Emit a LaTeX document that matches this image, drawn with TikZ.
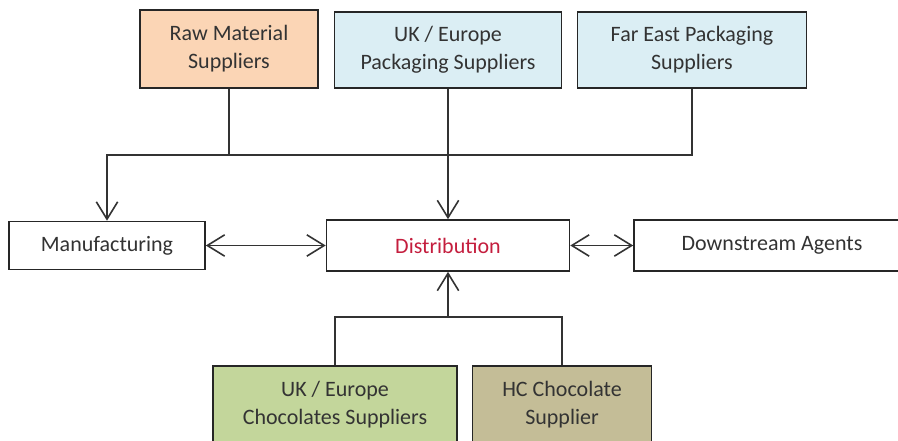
\documentclass[tikz,border=0pt]{standalone}
\usepackage{fontspec}
\setmainfont{Carlito}
\usepackage{tikz}
\usetikzlibrary{arrows.meta}
\usetikzlibrary{calc}

\definecolor{peach}{RGB}{251,213,181}
\definecolor{paleblue}{RGB}{219,238,244}
\definecolor{olivegreen}{RGB}{195,214,155}
\definecolor{tan}{RGB}{196,189,151}
\definecolor{crimson}{RGB}{196,30,62}

\tikzset{
    box/.style={draw=black!85, line width=1.2pt, inner sep=0pt, align=center,
        text=black!80, font=\fontsize{16.5pt}{21pt}\selectfont},
    link/.style={draw=black!80, line width=1.2pt},
    flow/.style={link, -{Straight Barb[length=13pt,width=16pt]}},
    twoway/.style={link, {Straight Barb[length=13pt,width=16pt]}-{Straight Barb[length=13pt,width=16pt]}}
}

\begin{document}
\begin{tikzpicture}[x=0.75pt, y=-0.75pt]

    % === Pagina (pixel dell'immagine) ===
    \useasboundingbox (0,0) rectangle (898,441);

    % === 1. Fornitori in alto ===
    \node[box, fill=peach, minimum width=178*0.75pt, minimum height=78*0.75pt]
        (raw) at (229,49) {Raw Material\\Suppliers};
    \node[box, fill=paleblue, minimum width=227*0.75pt, minimum height=76*0.75pt]
        (ukpack) at (448,50) {UK / Europe\\Packaging Suppliers};
    \node[box, fill=paleblue, minimum width=229*0.75pt, minimum height=76*0.75pt]
        (fareast) at (692,50) {Far East Packaging\\Suppliers};

    % === 2. Riga centrale ===
    \node[box, minimum width=196*0.75pt, minimum height=48*0.75pt]
        (manu) at (107,245.5) {Manufacturing};
    \node[box, minimum width=243*0.75pt, minimum height=51*0.75pt, text=crimson]
        (dist) at (448,245.5) {Distribution};
    \node[box, minimum width=276*0.75pt, minimum height=51*0.75pt]
        (down) at (772,245.5) {Downstream Agents};

    % === 3. Fornitori di cioccolato (in basso) ===
    \node[box, fill=olivegreen, minimum width=244*0.75pt, minimum height=78*0.75pt]
        (ukchoc) at (335,405) {UK / Europe\\Chocolates Suppliers};
    \node[box, fill=tan, minimum width=179*0.75pt, minimum height=78*0.75pt]
        (hc) at (562,405) {HC Chocolate\\Supplier};

    % === 4. Collegamenti ===
    \coordinate (topbus) at (0,155);
    \coordinate (lowbus) at (0,317);

    % Collettore superiore verso la produzione
    \draw[link, line width=1.6pt] (raw.south) -- (raw.south |- topbus);
    \draw[flow] (fareast.south) -- (fareast.south |- topbus) -| (manu.north);
    \draw[flow] (ukpack.south) -- (dist.north);

    % Collettore inferiore verso la distribuzione
    \draw[link] (ukchoc.north) |- (lowbus -| hc.north) -- (hc.north);
    \draw[flow] (lowbus -| dist.south) -- (dist.south);

    % Frecce doppie
    \draw[twoway] (manu.east) -- (dist.west);
    \draw[twoway] (dist.east) -- (down.west);

\end{tikzpicture}
\end{document}
